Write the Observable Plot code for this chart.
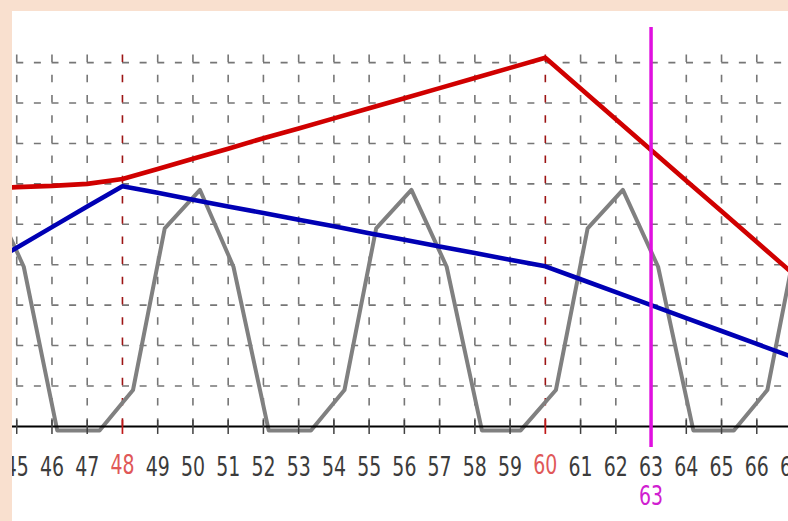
<!DOCTYPE html>
<html>
<head>
<meta charset="utf-8">
<script src="https://cdn.jsdelivr.net/npm/d3@7"></script>
<script src="https://cdn.jsdelivr.net/npm/@observablehq/plot@0.6"></script>
<style>
  html, body { margin: 0; padding: 0; background: #f9e0cf; width: 788px; height: 521px; overflow: hidden; }
  #chart { position: absolute; left: 12px; top: 11px; width: 776px; height: 510px; }
</style>
</head>
<body>
<div id="chart"></div>
<script>
// ---- data ----
const days = [44, 45, 46, 47, 48, 49, 50, 51, 52, 53, 54, 55, 56, 57, 58, 59, 60, 61, 62, 63, 64, 65, 66, 67];
const redSeries = [5.88, 5.92, 5.95, 6.0, 6.12, 6.37, 6.62, 6.87, 7.13, 7.37, 7.62, 7.87, 8.12, 8.37, 8.62, 8.87, 9.12, 8.36, 7.6, 6.84, 6.08, 5.32, 4.56, 3.8];
const blueSeries = [3.92, 4.42, 4.93, 5.44, 5.94, 5.78, 5.61, 5.44, 5.28, 5.11, 4.95, 4.78, 4.62, 4.45, 4.29, 4.12, 3.96, 3.64, 3.32, 3.0, 2.68, 2.36, 2.04, 1.72];
const grayX = [44.2, 45.2, 46.15, 47.35, 48.3, 49.2, 50.2, 51.15, 52.15, 53.35, 54.3, 55.2, 56.2, 57.2, 58.2, 59.3, 60.3, 61.2, 62.2, 63.2, 64.2, 65.35, 66.3, 67.2];
const grayY = [5.85, 3.95, -0.1, -0.1, 0.9, 4.9, 5.85, 3.95, -0.1, -0.1, 0.9, 4.9, 5.85, 3.95, -0.1, -0.1, 0.9, 4.9, 5.85, 3.95, -0.1, -0.1, 0.9, 4.9];
const tickDays = [45, 46, 47, 48, 49, 50, 51, 52, 53, 54, 55, 56, 57, 58, 59, 60, 61, 62, 63, 64, 65, 66, 67];
const gridLevels = [1, 2, 3, 4, 5, 6, 7, 8, 9];
const markerDays = [48, 60];
const cursorDay = [63];

// ---- tables ----
const rows = days.map((d, i) => ({day: d, red: redSeries[i], blue: blueSeries[i]}));
const grayRows = grayX.map((x, i) => ({x, y: grayY[i]}));
const normalTicks = tickDays.filter(d => !markerDays.includes(d));
const gridDays = tickDays.filter(d => !markerDays.includes(d));

const labelFont = '"DejaVu Sans Condensed", "Liberation Sans", sans-serif';

const chart = Plot.plot({
  width: 776,
  height: 510,
  marginLeft: 0,
  marginRight: 0,
  marginTop: 39,
  marginBottom: 83,
  x: {domain: [44.88, 66.9], axis: null},
  y: {domain: [-0.3, 9.3], axis: null},
  style: {background: "white", overflow: "hidden"},
  marks: [
    // horizontal dashed grid
    Plot.ruleY(gridLevels, {y: d => d, stroke: "#767676", strokeWidth: 1.6, strokeDasharray: "7,10.625", strokeDashoffset: 13.375}),
    // vertical dashed grid
    Plot.ruleX(gridDays, {x: d => d, y1: 9.3, y2: 0, stroke: "#767676", strokeWidth: 1.6, strokeDasharray: "7.5,12.7", strokeDashoffset: 15.6}),
    Plot.ruleX(markerDays, {x: d => d, y1: 9.3, y2: 0, stroke: "#9c1414", strokeWidth: 1.6, strokeDasharray: "7.5,12.7", strokeDashoffset: 15.6}),
    // series
    Plot.line(grayRows, {x: "x", y: "y", stroke: "#808080", strokeWidth: 4, clip: true}),
    // axis line and ticks
    Plot.ruleY([0], {y: d => d, stroke: "#000", strokeWidth: 2}),
    Plot.ruleX(normalTicks, {x: d => d, y1: 0.15, y2: -0.2, stroke: "#404040", strokeWidth: 1.5}),
    Plot.ruleX(markerDays, {x: d => d, y1: 0.15, y2: -0.2, stroke: "#c01818", strokeWidth: 1.7}),
    Plot.line(rows, {x: "day", y: "blue", stroke: "#0000b4", strokeWidth: 4.6, clip: true}),
    Plot.line(rows, {x: "day", y: "red", stroke: "#d00000", strokeWidth: 4.6, clip: true}),
    // cursor
    Plot.ruleX(cursorDay, {x: d => d, y1: 9.87, y2: -0.52, stroke: "#e010e0", strokeWidth: 3.5}),
    // tick labels
    Plot.text(normalTicks, {x: d => d, y: -1.02, text: d => String(d), fill: "#3c3c3c", fontSize: 21, fontFamily: labelFont}),
    Plot.text(markerDays, {x: d => d, y: -0.98, text: d => String(d), fill: "#e05858", fontSize: 21, fontFamily: labelFont}),
    Plot.text(cursorDay, {x: d => d, y: -1.73, text: d => String(d), fill: "#d020d0", fontSize: 21, fontFamily: labelFont})
  ]
});
// tall, narrow digits like the reference: stretch label glyphs vertically
d3.select(chart).selectAll("text").each(function() {
  const t = this.getAttribute("transform") || "";
  this.setAttribute("transform", (t + " scale(1,1.25)").trim());
});
document.getElementById("chart").appendChild(chart);
</script>
</body>
</html>
